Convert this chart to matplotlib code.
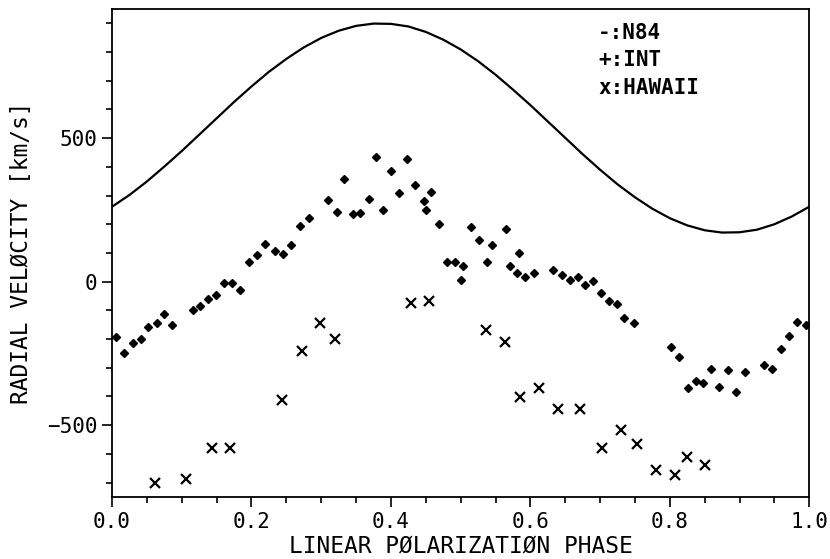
import matplotlib.pyplot as plt
from matplotlib.ticker import MultipleLocator

# N84 model curve, every 0.025 in phase
n84_phase = [0.000, 0.025, 0.050, 0.075, 0.100, 0.125, 0.150, 0.175, 0.200, 0.225,
             0.250, 0.275, 0.300, 0.325, 0.350, 0.375, 0.400, 0.425, 0.450, 0.475,
             0.500, 0.525, 0.550, 0.575, 0.600, 0.625, 0.650, 0.675, 0.700, 0.725,
             0.750, 0.775, 0.800, 0.825, 0.850, 0.875, 0.900, 0.925, 0.950, 0.975, 1.000]
n84_vel = [261, 302, 349, 401, 455, 512, 569, 626, 680, 731,
           776, 816, 849, 874, 891, 899, 898, 889, 870, 843,
           809, 768, 721, 669, 615, 558, 501, 444, 390, 339,
           294, 254, 221, 196, 179, 171, 172, 181, 200, 227, 261]

# INT measurements
int_phase = [0.005, 0.017, 0.030, 0.041, 0.052, 0.064, 0.075, 0.086, 0.116, 0.126,
             0.137, 0.149, 0.161, 0.172, 0.183, 0.196, 0.208, 0.220, 0.234, 0.245,
             0.257, 0.270, 0.282, 0.310, 0.322, 0.333, 0.345, 0.356, 0.368, 0.378,
             0.389, 0.400, 0.412, 0.423, 0.434, 0.447, 0.451, 0.458, 0.469, 0.481,
             0.492, 0.500, 0.503, 0.515, 0.526, 0.538, 0.545, 0.565, 0.571, 0.583,
             0.581, 0.593, 0.605, 0.633, 0.646, 0.657, 0.668, 0.679, 0.690, 0.702,
             0.713, 0.724, 0.734, 0.748, 0.801, 0.813, 0.826, 0.837, 0.847, 0.859,
             0.870, 0.883, 0.895, 0.908, 0.935, 0.946, 0.960, 0.971, 0.983, 0.995]
int_vel = [-192, -250, -212, -199, -158, -144, -112, -152, -100, -86,
           -61, -47, -4, -3, -28, 70, 93, 130, 106, 96,
           129, 194, 221, 285, 242, 356, 236, 238, 289, 434,
           248, 387, 309, 426, 338, 280, 249, 311, 201, 69,
           70, 7, 54, 191, 144, 70, 129, 182, 54, 100,
           29, 16, 29, 42, 23, 6, 17, -11, 1, -38,
           -68, -78, -125, -144, -229, -261, -372, -345, -352, -304,
           -367, -309, -385, -314, -292, -305, -236, -188, -142, -152]

# HAWAII measurements
haw_phase = [0.062, 0.106, 0.143, 0.169, 0.244, 0.272, 0.298, 0.320, 0.429, 0.455,
             0.536, 0.563, 0.585, 0.613, 0.639, 0.671, 0.703, 0.730, 0.753, 0.780,
             0.807, 0.825, 0.851]
haw_vel = [-701, -686, -580, -580, -413, -243, -143, -199, -74, -69,
           -169, -211, -401, -370, -444, -444, -580, -518, -567, -656,
           -672, -610, -640]

plt.rcParams['font.family'] = ['DejaVu Sans Mono']

fig = plt.figure(figsize=(8.3, 5.59), dpi=100)
ax = fig.add_axes([0.135, 0.111, 0.840, 0.873])

ax.plot(n84_phase, n84_vel, color='black', lw=1.6)
ax.plot(int_phase, int_vel, linestyle='none', marker='D', ms=4.5, color='black')
ax.plot(haw_phase, haw_vel, linestyle='none', marker='x', ms=7, mew=1.6, color='black')

ax.set_xlim(0, 1)
ax.set_ylim(-750, 950)
ax.xaxis.set_major_locator(MultipleLocator(0.2))
ax.xaxis.set_minor_locator(MultipleLocator(0.05))
ax.yaxis.set_major_locator(MultipleLocator(500))
ax.yaxis.set_minor_locator(MultipleLocator(100))
ax.xaxis.set_major_formatter(plt.FormatStrFormatter('%.1f'))
ax.tick_params(which='major', direction='out', length=7, width=1.2, labelsize=15)
ax.tick_params(which='minor', direction='out', length=4, width=1.2)
for s in ax.spines.values():
    s.set_linewidth(1.3)

ax.set_xlabel('LINEAR PØLARIZATIØN PHASE', fontsize=16.5, labelpad=2)
ax.set_ylabel('RADIAL VELØCITY [km/s]', fontsize=16.5, labelpad=10)

# legend written as plain text lines, like the original plot
ax.text(0.697, 0.950, '-:N84', transform=ax.transAxes, fontsize=15, fontweight='bold', va='center')
ax.text(0.697, 0.896, '+:INT', transform=ax.transAxes, fontsize=15, fontweight='bold', va='center')
ax.text(0.697, 0.839, 'x:HAWAII', transform=ax.transAxes, fontsize=15, fontweight='bold', va='center')

fig.savefig('out.png', dpi=100)
